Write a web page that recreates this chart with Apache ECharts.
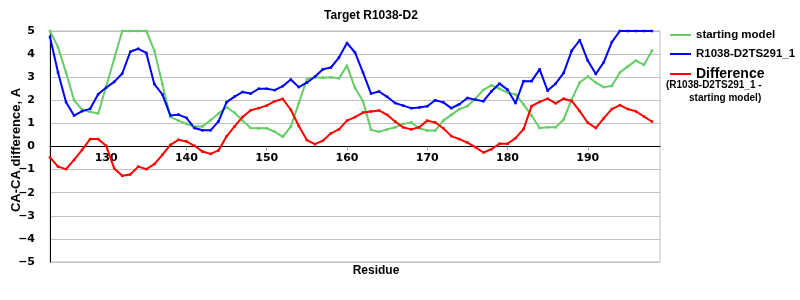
<!DOCTYPE html>
<html><head><meta charset="utf-8">
<script src="https://cdn.jsdelivr.net/npm/echarts@6/dist/echarts.min.js"></script>
<style>html,body{margin:0;padding:0;background:#fff}#c{width:800px;height:300px}</style>
</head><body><div id="c"></div>
<script>
const residues = [123,124,125,126,127,128,129,130,131,132,133,134,135,136,137,138,139,140,141,142,143,144,145,146,147,148,149,150,151,152,153,154,155,156,157,158,159,160,161,162,163,164,165,166,167,168,169,170,171,172,173,174,175,176,177,178,179,180,181,182,183,184,185,186,187,188,189,190,191,192,193,194,195,196,197,198];
const startingModel = [5.0,4.3,3.2,2.0,1.6,1.5,1.43,2.6,3.8,5.0,5.0,5.0,5.0,4.15,2.7,1.28,1.12,0.98,0.87,0.87,1.14,1.43,1.7,1.46,1.12,0.8,0.79,0.79,0.64,0.42,0.86,1.88,2.9,3.0,2.98,3.0,2.95,3.5,2.54,1.96,0.72,0.64,0.74,0.83,0.98,1.04,0.79,0.69,0.69,1.12,1.37,1.62,1.75,2.07,2.45,2.65,2.5,2.33,2.26,1.82,1.34,0.8,0.83,0.83,1.17,2.04,2.77,3.03,2.77,2.57,2.62,3.2,3.47,3.72,3.53,4.15];
const modelTS291 = [4.74,3.2,1.92,1.34,1.53,1.63,2.26,2.55,2.8,3.16,4.1,4.23,4.05,2.7,2.26,1.34,1.38,1.24,0.8,0.7,0.7,1.09,1.92,2.16,2.36,2.29,2.5,2.5,2.44,2.61,2.9,2.57,2.76,3.02,3.34,3.42,3.85,4.48,4.07,3.2,2.29,2.38,2.15,1.88,1.77,1.66,1.69,1.74,2.0,1.91,1.66,1.83,2.1,2.03,1.96,2.39,2.72,2.46,1.88,2.83,2.83,3.34,2.42,2.72,3.19,4.15,4.6,3.72,3.14,3.65,4.52,5.0,5.0,5.0,5.0,5.0];
const difference = [-0.47,-0.87,-0.98,-0.58,-0.15,0.32,0.32,0.03,-0.95,-1.27,-1.21,-0.87,-0.98,-0.76,-0.36,0.07,0.29,0.22,0.03,-0.22,-0.32,-0.17,0.44,0.87,1.28,1.57,1.66,1.77,1.96,2.06,1.59,0.89,0.28,0.1,0.25,0.57,0.74,1.12,1.27,1.47,1.52,1.56,1.37,1.08,0.83,0.74,0.83,1.12,1.04,0.79,0.45,0.32,0.17,-0.03,-0.26,-0.12,0.12,0.12,0.36,0.75,1.75,1.93,2.07,1.87,2.07,1.97,1.53,1.03,0.8,1.23,1.62,1.79,1.62,1.52,1.3,1.08];
const xTickLabels = [130,140,150,160,170,180,190];

const pairs = arr => residues.map((r,i)=>[r,arr[i]]);
const mk = (name,color,arr)=>({
  name, type:'line', data:pairs(arr), color,
  lineStyle:{width:2,color}, itemStyle:{color},
  symbol:'rect', symbolSize:2.5, showSymbol:true, animation:false
});
const legendText = {fontFamily:'Liberation Sans, Arial',fontWeight:'bold',fontSize:11.5,color:'#000'};
const mkLegend = (name, top, extra) => ({
  orient:'vertical', left:670, top, itemWidth:21, itemHeight:2, icon:'rect', padding:0,
  textStyle:Object.assign({}, legendText, extra||{}), data:[{name}]
});
const chart = echarts.init(document.getElementById('c'),null,{renderer:'canvas'});
chart.setOption({
  animation:false,
  title:{text:'Target R1038-D2',left:366,textAlign:'center',top:5,
    textStyle:{fontFamily:'Liberation Sans Narrow, Liberation Sans, Arial',fontSize:12,fontWeight:'bold',color:'#000'}},
  grid:{left:50,right:140,top:31,bottom:38,show:true,borderColor:'#c0c0c0',borderWidth:1},
  xAxis:{type:'value',min:123,max:199,position:'bottom',offset:-115.5,
    axisLine:{onZero:false,lineStyle:{color:'#000',width:1}},
    axisTick:{show:true,customValues:xTickLabels,length:4,inside:false,lineStyle:{color:'#aaa'}},
    axisLabel:{customValues:xTickLabels,fontFamily:'DejaVu Sans',fontWeight:'bold',fontSize:11,color:'#000',margin:6},
    splitLine:{show:false}},
  yAxis:{type:'value',min:-5,max:5,interval:1,
    axisLine:{show:true,lineStyle:{color:'#000',width:1}},
    axisTick:{show:false},
    axisLabel:{fontFamily:'DejaVu Sans',fontWeight:'bold',fontSize:11,color:'#000',margin:15,
      formatter:v=>String(v).replace('-','\u2212')},
    splitLine:{show:true,lineStyle:{color:'#c0c0c0',width:1}}},
  legend:[
    mkLegend('starting model', 29),
    mkLegend('R1038-D2TS291_1', 48),
    mkLegend('Difference', 67, {fontSize:14})
  ],
  graphic:[
    {type:'text',x:666,y:80,style:{text:'(R1038-D2TS291_1 -',font:'bold 10px "Liberation Sans", Arial',fill:'#000'}},
    {type:'text',x:689,y:93,style:{text:'starting model)',font:'bold 10px "Liberation Sans", Arial',fill:'#000'}},
    {type:'text',x:376,y:271,style:{text:'Residue',font:'bold 12px "Liberation Sans", Arial',fill:'#000',align:'center',verticalAlign:'middle'}},
    {type:'text',x:16,y:150,rotation:Math.PI/2,style:{text:'CA-CA difference, A',font:'bold 13px "Liberation Sans", Arial',fill:'#000',align:'center',verticalAlign:'middle'}}
  ],
  series:[
    mk('starting model','#66cc66',startingModel),
    mk('R1038-D2TS291_1','#0000ff',modelTS291),
    mk('Difference','#ff0000',difference)
  ]
});
</script></body></html>
